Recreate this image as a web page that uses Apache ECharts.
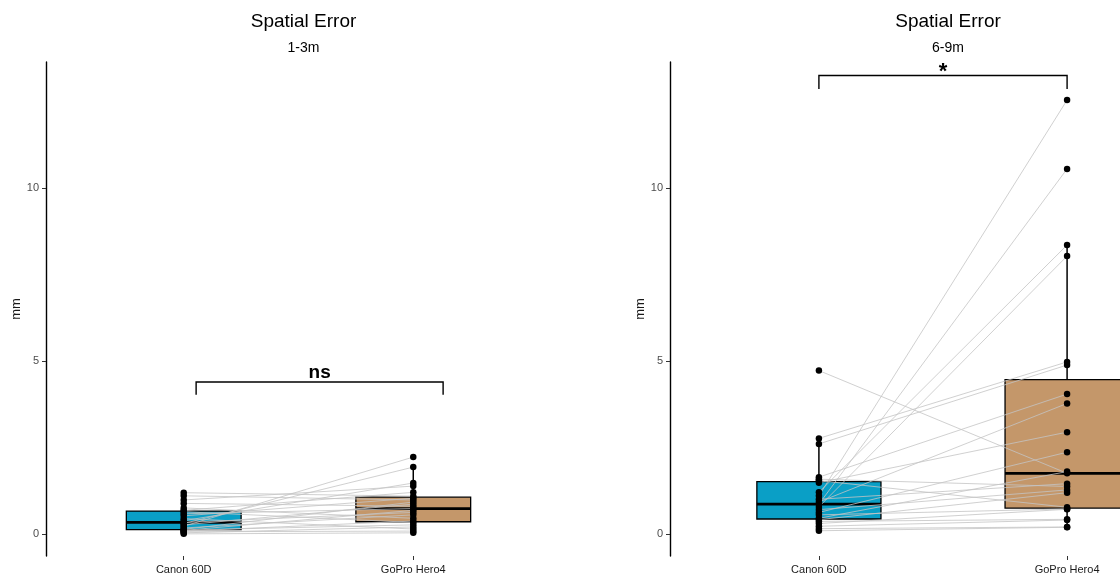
<!DOCTYPE html>
<html><head><meta charset="utf-8">
<script src="https://cdn.jsdelivr.net/npm/echarts@6/dist/echarts.min.js"></script>
<style>html,body{margin:0;padding:0;background:#fff}#c{width:1120px;height:579px}</style>
</head><body><div id="c"></div>
<script>
// ---------- data ----------
const categories = ['Canon 60D', 'GoPro Hero4'];
const panelTitles = ['Spatial Error', 'Spatial Error'];
const panelSubtitles = ['1-3m', '6-9m'];
const yTicks = [0, 5, 10];
const yName = 'mm';
// paired values per subject (same index = same subject)
const canonNear = [1.19,1.10,0.98,0.88,0.75,0.68,0.64,0.58,0.52,0.44,0.38,0.33,0.30,0.26,0.22,0.17,0.13,0.11,0.10,0.08,0.06,0.03,0.00];
const goproNear = [1.09,0.98,1.38,0.80,0.45,1.20,0.33,0.73,1.03,0.14,1.47,0.62,1.93,0.86,2.22,0.55,0.92,0.26,0.68,0.37,0.08,0.20,0.03];
const canonFar  = [4.72,2.76,2.60,1.64,1.58,1.54,1.48,1.20,1.10,1.00,0.92,0.86,0.78,0.70,0.62,0.55,0.45,0.41,0.36,0.30,0.22,0.15,0.09];
const goproFar  = [1.75,4.97,4.88,4.04,1.37,0.77,2.94,8.35,12.54,1.45,3.77,10.55,8.03,1.27,2.36,0.72,1.80,1.19,0.42,0.71,0.40,0.20,0.19];
// significance brackets: [x start, x end, y bar, y tick end]
const bracketNear = [1.054, 2.13, 4.39, 4.02];
const bracketFar  = [1, 2, 13.25, 12.86];
const sigLabels = ['ns', '*'];

// ---------- helpers ----------
function quant(s, p) { const h = (s.length - 1) * p, lo = Math.floor(h); const hi = Math.min(lo + 1, s.length - 1); return s[lo] + (h - lo) * (s[hi] - s[lo]); }
function boxStats(vals) {
  const s = vals.slice().sort((a, b) => a - b);
  const q1 = quant(s, 0.25), med = quant(s, 0.5), q3 = quant(s, 0.75), iqr = q3 - q1;
  const lo = Math.min(...s.filter(v => v >= q1 - 1.5 * iqr));
  const hi = Math.max(...s.filter(v => v <= q3 + 1.5 * iqr));
  return [lo, q1, med, q3, hi];
}
const FONT = "'Liberation Sans', Arial, sans-serif";
const boxColors = ['#0a9fc6', '#c4976a'];
const panels = [
  { canon: canonNear, gopro: goproNear, bracket: bracketNear, label: sigLabels[0], grid: { left: 46, top: 62, width: 505, height: 494, outerBoundsMode: 'none' }, labelFont: 19, labelDy: -9.5 },
  { canon: canonFar, gopro: goproFar, bracket: bracketFar, label: sigLabels[1], grid: { left: 670, top: 62, width: 546, height: 494, outerBoundsMode: 'none' }, labelFont: 22, labelDy: -3.5 }
];

const grids = [], xAxes = [], yAxes = [], series = [], titles = [];
panels.forEach((P, p) => {
  grids.push(P.grid);
  titles.push({
    text: panelTitles[p], subtext: panelSubtitles[p],
    left: P.grid.left + P.grid.width / 2, top: 7, textAlign: 'center', itemGap: 10,
    textStyle: { fontFamily: FONT, fontSize: 19, fontWeight: 'normal', color: '#000' },
    subtextStyle: { fontFamily: FONT, fontSize: 14, color: '#000' }
  });
  xAxes.push({
    type: 'value', gridIndex: p, min: 0.4, max: 2.6,
    axisLine: { show: false, onZero: false },
    axisTick: { show: true, customValues: [1, 2], length: 4, lineStyle: { color: '#333', width: 1 } },
    axisLabel: { customValues: [1, 2], formatter: v => categories[Math.round(v) - 1], fontFamily: FONT, fontSize: 11, color: '#1a1a1a', margin: 8 },
    splitLine: { show: false }
  });
  yAxes.push({
    type: 'value', gridIndex: p, min: -0.64, max: 13.64,
    name: yName, nameLocation: 'middle', nameGap: 23, nameRotate: 90,
    nameTextStyle: { fontFamily: FONT, fontSize: 13, color: '#1a1a1a' },
    axisLine: { show: true, onZero: false, lineStyle: { color: '#000', width: 1.4 } },
    axisTick: { show: true, customValues: yTicks, length: 4, lineStyle: { color: '#333', width: 1 } },
    axisLabel: { customValues: yTicks, fontFamily: FONT, fontSize: 11, color: '#4d4d4d', margin: 7 },
    splitLine: { show: false }
  });
  const groups = [P.canon, P.gopro];
  // boxes
  series.push({
    type: 'custom', xAxisIndex: p, yAxisIndex: p, z: 2, silent: true,
    data: groups.map((g, i) => [i + 1].concat(boxStats(g))),
    encode: { x: 0, y: [1, 2, 3, 4, 5] },
    renderItem: function (params, api) {
      const x = api.value(0), lo = api.value(1), q1 = api.value(2), med = api.value(3), q3 = api.value(4), hi = api.value(5);
      const tl = api.coord([x - 0.25, q3]), br = api.coord([x + 0.25, q1]);
      const c = api.coord([x, med]), l = api.coord([x, lo]), h = api.coord([x, hi]);
      const ml = api.coord([x - 0.25, med]), mr = api.coord([x + 0.25, med]);
      return { type: 'group', children: [
        { type: 'line', shape: { x1: h[0], y1: h[1], x2: c[0], y2: tl[1] }, style: { stroke: '#000', lineWidth: 1.5 } },
        { type: 'line', shape: { x1: l[0], y1: l[1], x2: c[0], y2: br[1] }, style: { stroke: '#000', lineWidth: 1.5 } },
        { type: 'rect', shape: { x: tl[0], y: tl[1], width: br[0] - tl[0], height: br[1] - tl[1] }, style: { fill: boxColors[params.dataIndex], stroke: '#000', lineWidth: 1.3 } },
        { type: 'line', shape: { x1: ml[0], y1: ml[1], x2: mr[0], y2: mr[1] }, style: { stroke: '#000', lineWidth: 2.8 } }
      ] };
    }
  });
  // paired lines
  series.push({
    type: 'lines', coordinateSystem: 'cartesian2d', xAxisIndex: p, yAxisIndex: p, z: 3, silent: true,
    data: P.canon.map((v, i) => ({ coords: [[1, v], [2, P.gopro[i]]] })),
    lineStyle: { color: '#c4c4c4', width: 0.8, opacity: 1 }
  });
  // points
  series.push({
    type: 'scatter', xAxisIndex: p, yAxisIndex: p, z: 4, silent: true,
    symbol: 'circle', symbolSize: 6.5, itemStyle: { color: '#000', opacity: 1 },
    data: P.canon.map(v => [1, v]).concat(P.gopro.map(v => [2, v]))
  });
  // bracket
  series.push({
    type: 'custom', xAxisIndex: p, yAxisIndex: p, z: 5, silent: true,
    data: [P.bracket],
    encode: { x: [0, 1], y: [2, 3] },
    renderItem: function (params, api) {
      const a = api.coord([api.value(0), api.value(3)]), b = api.coord([api.value(0), api.value(2)]);
      const c = api.coord([api.value(1), api.value(2)]), d = api.coord([api.value(1), api.value(3)]);
      return { type: 'group', children: [
        { type: 'polyline', shape: { points: [a, b, c, d] }, style: { stroke: '#000', lineWidth: 1.4, fill: null } },
        { type: 'text', style: { text: P.label, x: (b[0] + c[0]) / 2, y: b[1] + P.labelDy, align: 'center', verticalAlign: 'middle', fontFamily: FONT, fontWeight: 'bold', fontSize: P.labelFont, fill: '#000' } }
      ] };
    }
  });
});

const chart = echarts.init(document.getElementById('c'), null, { renderer: 'canvas' });
chart.setOption({ animation: false, backgroundColor: '#fff', title: titles, grid: grids, xAxis: xAxes, yAxis: yAxes, series: series });
</script></body></html>
